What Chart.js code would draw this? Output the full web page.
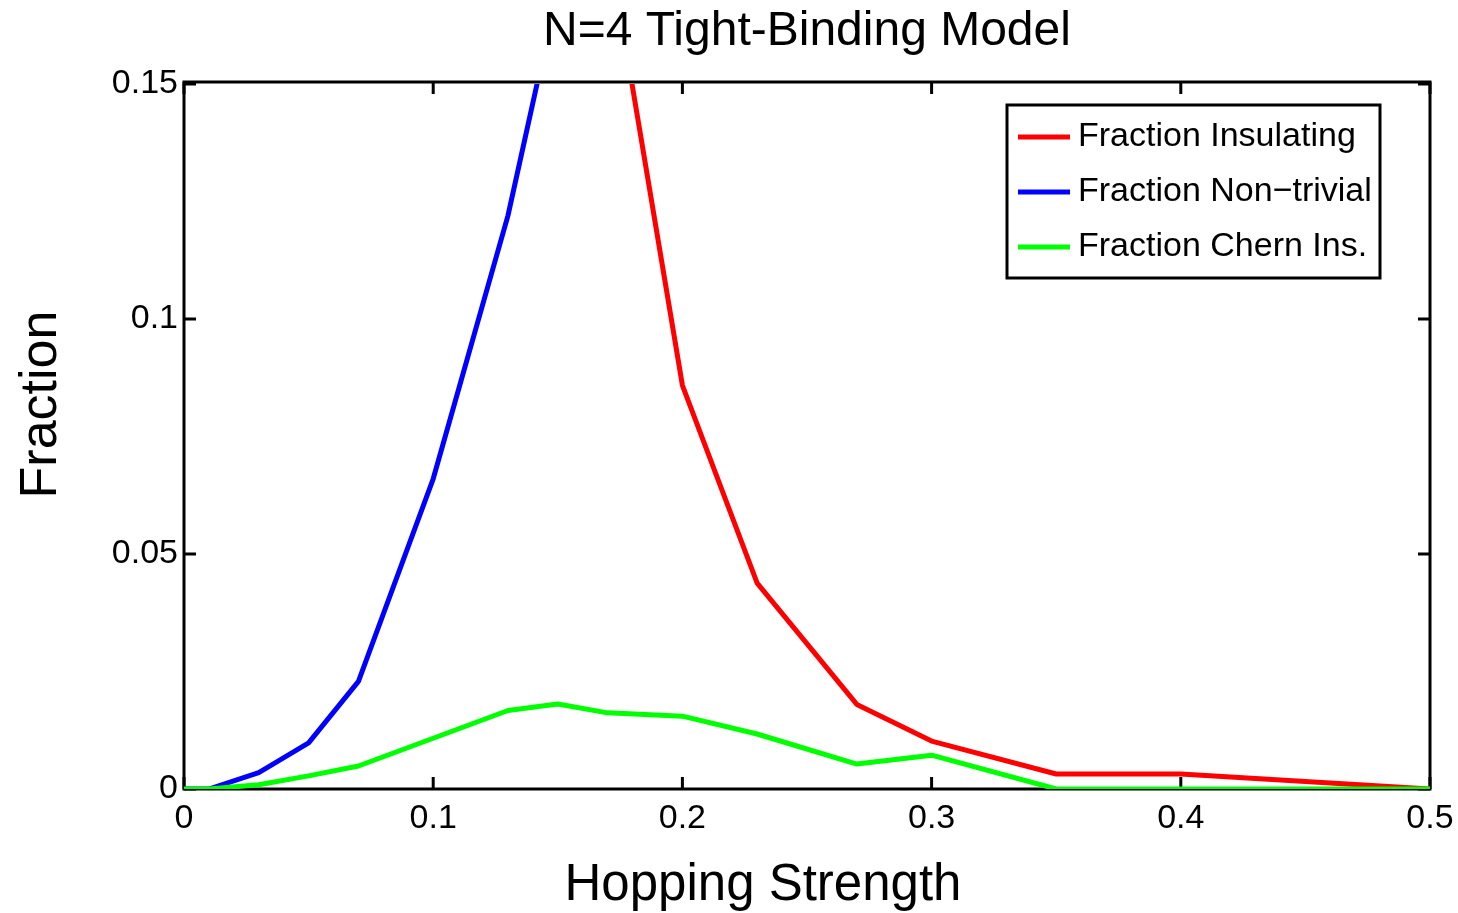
<!DOCTYPE html>
<html>
<head>
<meta charset="utf-8">
<title>N=4 Tight-Binding Model</title>
<script src="https://cdn.jsdelivr.net/npm/chart.js@4/dist/chart.umd.min.js"></script>
<style>
    html, body { margin: 0; padding: 0; background: #fff; }
    #wrap { position: relative; width: 1458px; height: 913px; }
</style>
</head>
<body>
<div id="wrap"><canvas id="grafico"></canvas></div>
<script>
// valores
const hopping = [0, 0.01, 0.03, 0.05, 0.07, 0.1, 0.13, 0.15, 0.17, 0.2, 0.23, 0.27, 0.3, 0.35, 0.4, 0.5];
// fuera del grafico (> 0.15) no se ve nada, se deja en null
const fracInsulating = [null, null, null, null, null, null, null, null, 0.181, 0.0859, 0.0438, 0.018, 0.0102, 0.0032, 0.0032, 0];
const fracNonTrivial = [0, 0, 0.0035, 0.0098, 0.0229, 0.066, 0.122, 0.17, null, null, null, null, null, null, null, null];
const fracChern = [0, 0, 0.0009, 0.0028, 0.0049, 0.0108, 0.0167, 0.0181, 0.0162, 0.0155, 0.0117, 0.0053, 0.0072, 0, 0, 0];

const xTicks = [0, 0.1, 0.2, 0.3, 0.4, 0.5];
const yTicks = [0, 0.05, 0.1, 0.15];

const tituloX = 'Hopping Strength';
const tituloY = 'Fraction';

const fuente = "'Liberation Sans', Arial, Helvetica, sans-serif";

const puntos = (ys) => hopping.map((x, i) => ({ x: x, y: ys[i] }));

// marco negro con ticks hacia adentro (estilo matlab)
const marcoPlugin = {
    id: 'marco',
    beforeDatasetsDraw(chart) {
        const { ctx, chartArea: a, scales } = chart;
        ctx.save();
        ctx.strokeStyle = '#000';
        ctx.lineWidth = 3;
        ctx.strokeRect(a.left, a.top - 2, a.right - a.left, a.bottom - a.top + 2);
        const largo = 12;
        ctx.beginPath();
        xTicks.forEach((v) => {
            const px = scales.x.getPixelForValue(v);
            ctx.moveTo(px, a.bottom); ctx.lineTo(px, a.bottom - largo);
            ctx.moveTo(px, a.top - 2); ctx.lineTo(px, a.top - 2 + largo);
        });
        yTicks.forEach((v) => {
            const py = scales.y.getPixelForValue(v);
            ctx.moveTo(a.left, py); ctx.lineTo(a.left + largo, py);
            ctx.moveTo(a.right, py); ctx.lineTo(a.right - largo, py);
        });
        ctx.stroke();

        // titulos de los ejes (matlab no los centra exactamente en el area)
        ctx.fillStyle = '#000';
        ctx.textAlign = 'center';
        ctx.textBaseline = 'alphabetic';
        ctx.font = '51px ' + fuente;
        ctx.fillText(tituloX, (a.left + a.right) / 2 - 44, 900);
        ctx.save();
        ctx.translate(56, (a.top + a.bottom) / 2 - 32);
        ctx.rotate(-Math.PI / 2);
        ctx.font = '52px ' + fuente;
        ctx.fillText(tituloY, 0, 0);
        ctx.restore();
        ctx.restore();
    }
};

// leyenda con caja, arriba a la derecha dentro del area
const leyendaPlugin = {
    id: 'leyenda',
    afterDraw(chart) {
        const { ctx, chartArea: a } = chart;
        const ancho = 373, alto = 173;
        const x0 = a.right - 50 - ancho;
        const y0 = a.top + 21;
        ctx.save();
        ctx.fillStyle = '#fff';
        ctx.fillRect(x0, y0, ancho, alto);
        ctx.strokeStyle = '#000';
        ctx.lineWidth = 3;
        ctx.strokeRect(x0, y0, ancho, alto);
        ctx.font = '34px ' + fuente;
        ctx.textBaseline = 'middle';
        ctx.textAlign = 'left';
        chart.data.datasets.forEach((ds, i) => {
            const y = y0 + 32 + i * 55;
            ctx.strokeStyle = ds.borderColor;
            ctx.lineWidth = 5;
            ctx.beginPath();
            ctx.moveTo(x0 + 11, y);
            ctx.lineTo(x0 + 63, y);
            ctx.stroke();
            ctx.fillStyle = '#000';
            ctx.fillText(ds.label, x0 + 71, y);
        });
        ctx.restore();
    }
};

const ctx = document.getElementById('grafico').getContext('2d');
new Chart(ctx, {
    type: 'line',
    data: {
        datasets: [
            { label: 'Fraction Insulating', data: puntos(fracInsulating), borderColor: '#ff0000', order: 1 },
            { label: 'Fraction Non\u2212trivial', data: puntos(fracNonTrivial), borderColor: '#0000ff', order: 2 },
            { label: 'Fraction Chern Ins.', data: puntos(fracChern), borderColor: '#00ff00', order: 0 },
        ],
    },
    options: {
        responsive: true,
        maintainAspectRatio: false,
        animation: false,
        spanGaps: false,
        elements: {
            line: { borderWidth: 5, tension: 0, fill: false, borderJoinStyle: 'round', borderCapStyle: 'round' },
            point: { radius: 0, hoverRadius: 0 },
        },
        layout: { padding: { left: 0, right: 28, top: 0, bottom: 0 } },
        plugins: {
            legend: { display: false },
            tooltip: { enabled: false },
            title: {
                display: true,
                fullSize: false,
                text: 'N=4 Tight-Binding Model',
                color: '#000',
                font: { family: fuente, size: 48, weight: 'normal', lineHeight: 1.2 },
                padding: { top: 3, bottom: 23.4 },
            },
        },
        scales: {
            x: {
                type: 'linear',
                min: 0,
                max: 0.5,
                afterBuildTicks: (s) => { s.ticks = xTicks.map((v) => ({ value: v })); },
                afterFit: (s) => { s.height = 124; s.paddingLeft = 0; s.paddingRight = 0; },
                grid: { display: false, drawTicks: false },
                border: { display: false },
                ticks: {
                    color: '#000',
                    padding: 9,
                    maxRotation: 0,
                    font: { family: fuente, size: 34 },
                    callback: (v) => String(v),
                },
            },
            y: {
                min: 0,
                max: 0.15,
                afterBuildTicks: (s) => { s.ticks = yTicks.map((v) => ({ value: v })); },
                afterFit: (s) => { s.width = 184; },
                grid: { display: false, drawTicks: false },
                border: { display: false },
                ticks: {
                    color: '#000',
                    padding: 6,
                    font: { family: fuente, size: 34 },
                    callback: (v) => String(v),
                },
            },
        },
    },
    plugins: [marcoPlugin, leyendaPlugin],
});
</script>
</body>
</html>
